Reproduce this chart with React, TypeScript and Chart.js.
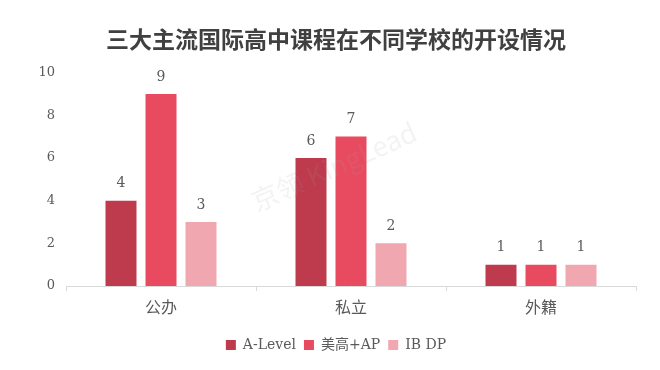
import React, { useEffect, useRef } from "react";
import { Chart, registerables } from "chart.js";

Chart.register(...registerables);

const TITLE = "三大主流国际高中课程在不同学校的开设情况";
const categories = ["公办", "私立", "外籍"];
const seriesNames = ["A-Level", "美高+AP", "IB DP"];
const aLevel = [4, 6, 1];
const usAP = [9, 7, 1];
const ibDP = [3, 2, 1];
const yTicks = [0, 2, 4, 6, 8, 10];
const colors = ["#BE3A4D", "#E84B60", "#F0A7AF"];
const WATERMARK = "京领 KingLead";

const SERIF = "'DejaVu Serif', 'Noto Sans CJK SC', serif";
const CJK = "'Noto Sans CJK SC', 'DejaVu Sans', sans-serif";
const TEXT = "#5a5a5a";

const labelPlugin = {
  id: "valueLabels",
  afterDatasetsDraw(chart: any) {
    const ctx = chart.ctx;
    ctx.save();
    ctx.font = `14px ${SERIF}`;
    ctx.fillStyle = TEXT;
    ctx.textAlign = "center";
    ctx.textBaseline = "middle";
    chart.data.datasets.forEach((ds: any, i: number) => {
      const meta = chart.getDatasetMeta(i);
      meta.data.forEach((bar: any, j: number) => {
        ctx.fillText(String(ds.data[j]), bar.x, bar.y - 17);
      });
    });
    ctx.restore();
  },
};

const watermarkPlugin = {
  id: "watermark",
  afterDatasetsDraw(chart: any) {
    const ctx = chart.ctx;
    const a = chart.chartArea;
    ctx.save();
    ctx.translate(a.left + (a.right - a.left) * 0.47, a.top + (a.bottom - a.top) * 0.44);
    ctx.rotate((-24 * Math.PI) / 180);
    ctx.font = `27px ${CJK}`;
    ctx.fillStyle = "rgba(160,160,160,0.13)";
    ctx.textAlign = "center";
    ctx.textBaseline = "middle";
    ctx.fillText(WATERMARK, 0, 0);
    ctx.restore();
  },
};

export default function App() {
  const ref = useRef<HTMLCanvasElement | null>(null);
  useEffect(() => {
    if (!ref.current) return;
    const data = [aLevel, usAP, ibDP];
    const chart = new Chart(ref.current, {
      type: "bar",
      data: {
        labels: categories,
        datasets: seriesNames.map((name, i) => ({
          label: name,
          data: data[i],
          backgroundColor: colors[i],
          borderWidth: 0,
          categoryPercentage: 0.6316,
          barPercentage: 0.775,
        })),
      },
      options: {
        responsive: false,
        animation: false,
        layout: { padding: { left: 36, right: 24, top: 0, bottom: 8 } },
        plugins: {
          title: {
            display: true,
            text: TITLE,
            color: "#404040",
            font: { family: CJK, size: 23, weight: "bold" },
            padding: { top: 25, bottom: 20 },
          },
          legend: {
            position: "bottom",
            labels: {
              boxWidth: 10,
              boxHeight: 10,
              padding: 8,
              color: TEXT,
              font: { family: SERIF, size: 14 },
            },
          },
          tooltip: { enabled: false },
        },
        scales: {
          x: {
            grid: {
              offset: true,
              drawOnChartArea: false,
              drawTicks: true,
              tickLength: 5,
              color: "#d9d9d9",
            },
            border: { display: true, color: "#d9d9d9" },
            ticks: { color: TEXT, padding: 6, font: { family: CJK, size: 16 } },
            afterFit: (s: any) => {
              s.height = 44;
            },
          },
          y: {
            min: 0,
            max: 10,
            afterBuildTicks: (s: any) => {
              s.ticks = yTicks.map((v) => ({ value: v }));
            },
            grid: { display: false, drawTicks: false },
            border: { display: false },
            ticks: { color: TEXT, padding: 11, font: { family: SERIF, size: 13 } },
            afterFit: (s: any) => {
              s.width = 30;
            },
          },
        },
      },
      plugins: [labelPlugin, watermarkPlugin],
    } as any);
    return () => chart.destroy();
  }, []);
  return (
    <div style={{ position: "fixed", left: 0, top: 0, width: 660, height: 370, background: "#fff" }}>
      <canvas ref={ref} width={660} height={370} />
    </div>
  );
}
